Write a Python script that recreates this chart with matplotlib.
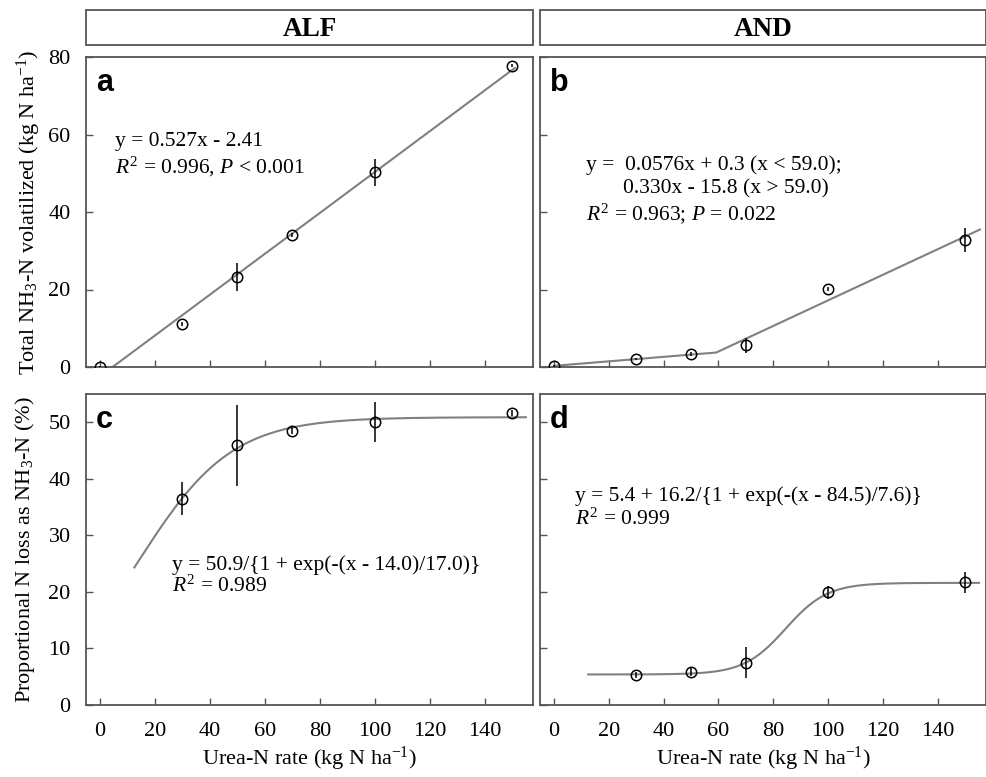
import numpy as np
import matplotlib
matplotlib.use("Agg")
import matplotlib.pyplot as plt
from matplotlib.patches import Rectangle

plt.rcParams['font.family'] = ['Liberation Serif', 'DejaVu Serif']
plt.rcParams['mathtext.fontset'] = 'custom'
plt.rcParams['mathtext.rm'] = 'Liberation Serif'
plt.rcParams['mathtext.it'] = 'Liberation Serif:italic'
plt.rcParams['mathtext.bf'] = 'Liberation Serif:bold'

# ---- data ----
rates = [0, 30, 50, 70, 100, 150]
alf_total = [0.0, 11.2, 23.2, 34.1, 50.2, 77.8]
alf_total_err = [0.3, 0.5, 3.7, 0.6, 3.5, 0.5]
and_total = [0.3, 2.0, 3.3, 5.6, 20.2, 32.8]
and_total_err = [0.3, 0.3, 0.5, 2.0, 0.5, 3.0]

rates_pct = [30, 50, 70, 100, 150]
alf_pct = [36.5, 45.9, 48.5, 50.0, 51.6]
alf_pct_err = [2.9, 7.2, 0.6, 3.5, 0.5]
and_pct = [5.3, 5.8, 7.5, 19.9, 21.7]
and_pct_err = [0.5, 0.7, 2.8, 1.1, 1.9]

# fitted model parameters (as printed on the chart)
alf_lin = (0.527, -2.41)
and_seg = (0.0576, 0.3, 0.330, -15.8, 59.0)
alf_sig = (50.9, 14.0, 17.0)
and_sig = (5.4, 16.2, 84.5, 7.6)

col_titles = ['ALF', 'AND']
xticks = [0, 20, 40, 60, 80, 100, 120, 140]

# ---- figure ----
fig = plt.figure(figsize=(9.87, 7.77), dpi=100)
W, H = 987, 777

def axpos(l, t, r, b):
    return [l / W, 1 - b / H, (r - l) / W, (b - t) / H]

ax_a = fig.add_axes(axpos(86, 57, 533, 367))
ax_b = fig.add_axes(axpos(540, 57, 986, 367))
ax_c = fig.add_axes(axpos(86, 394, 533, 705))
ax_d = fig.add_axes(axpos(540, 394, 986, 705))

spine_col = '#555555'
line_col = '#808080'

for ax in (ax_a, ax_b, ax_c, ax_d):
    ax.set_xlim(-5.1, 157.6)
    ax.set_xticks(xticks)
    for s in ax.spines.values():
        s.set_color(spine_col)
        s.set_linewidth(1.3)
    ax.tick_params(direction='in', length=5, width=1.0, color=spine_col,
                   labelsize=16)
    ax.tick_params(axis='x', pad=12)
    ax.tick_params(axis='y', pad=11)

for ax in (ax_a, ax_b):
    ax.set_ylim(0, 80)
    ax.set_yticks([0, 20, 40, 60, 80])
    ax.tick_params(labelbottom=False)
for ax in (ax_c, ax_d):
    ax.set_ylim(0, 55)
    ax.set_yticks([0, 10, 20, 30, 40, 50])
for ax in (ax_b, ax_d):
    ax.tick_params(labelleft=False)

mk = dict(fmt='o', mfc='none', mec='black', ecolor='black', ms=7.5, mew=1.1,
          elinewidth=1.1, capsize=0, zorder=5)

# panel a
xa = np.linspace(-alf_lin[1] / alf_lin[0], 151, 50)
ax_a.plot(xa, alf_lin[0] * xa + alf_lin[1], color=line_col, lw=1.5)
ax_a.errorbar(rates, alf_total, yerr=alf_total_err, **mk)

# panel b
xb = np.linspace(0, 155.4, 400)
yb = np.where(xb < and_seg[4], and_seg[0] * xb + and_seg[1], and_seg[2] * xb + and_seg[3])
ax_b.plot(xb, yb, color=line_col, lw=1.5)
ax_b.errorbar(rates, and_total, yerr=and_total_err, **mk)

# panel c
xc = np.linspace(12.5, 155, 300)
ax_c.plot(xc, alf_sig[0] / (1 + np.exp(-(xc - alf_sig[1]) / alf_sig[2])), color=line_col, lw=1.5)
ax_c.errorbar(rates_pct, alf_pct, yerr=alf_pct_err, **mk)

# panel d
xd = np.linspace(12.5, 155, 300)
ax_d.plot(xd, and_sig[0] + and_sig[1] / (1 + np.exp(-(xd - and_sig[2]) / and_sig[3])), color=line_col, lw=1.5)
ax_d.errorbar(rates_pct, and_pct, yerr=and_pct_err, **mk)

# annotations
fs = 15.5
ax_a.text(5.5, 58.1, 'y = 0.527x - 2.41', fontsize=fs, va='center')
ax_a.text(5.5, 51.7, r'$\mathit{R}^2$ = 0.996, $\mathit{P}$ < 0.001', fontsize=fs, va='center')

ax_b.text(11.7, 52.0, 'y =  0.0576x + 0.3 (x < 59.0);', fontsize=fs, va='center')
ax_b.text(25.3, 46.1, '0.330x - 15.8 (x > 59.0)', fontsize=fs, va='center')
ax_b.text(11.7, 39.7, r'$\mathit{R}^2$ = 0.963; $\mathit{P}$ = 0.022', fontsize=fs, va='center')

ax_c.text(26.3, 24.8, 'y = 50.9/{1 + exp(-(x - 14.0)/17.0)}', fontsize=fs, va='center')
ax_c.text(26.3, 21.0, r'$\mathit{R}^2$ = 0.989', fontsize=fs, va='center')

ax_d.text(7.7, 36.9, 'y = 5.4 + 16.2/{1 + exp(-(x - 84.5)/7.6)}', fontsize=fs, va='center')
ax_d.text(7.7, 32.8, r'$\mathit{R}^2$ = 0.999', fontsize=fs, va='center')

# panel letters
for ax, lab in zip((ax_a, ax_b, ax_c, ax_d), 'abcd'):
    ax.text(0.022, 0.965, lab, transform=ax.transAxes, fontsize=22, fontweight='bold',
            family=['Liberation Sans', 'DejaVu Sans'], va='top', ha='left')

# column header boxes
for (l, r), title in zip(((86, 533), (540, 986)), col_titles):
    fig.patches.append(Rectangle((l / W, 1 - 45 / H), (r - l) / W, 35 / H,
                                 transform=fig.transFigure, fill=False,
                                 edgecolor=spine_col, lw=1.3))
    fig.text((l + r) / 2 / W, 1 - 30 / H, title, ha='center', va='center',
             fontsize=19.5, fontweight='bold')

# axis labels
fig.text(29 / W, 1 - 212 / H, r'Total NH$_3$-N volatilized (kg N ha$^{-1}$)',
         rotation=90, ha='center', va='center', fontsize=16)
fig.text(25 / W, 1 - 550 / H, r'Proportional N loss as NH$_3$-N (%)',
         rotation=90, ha='center', va='center', fontsize=16)
for ax in (ax_c, ax_d):
    pos = ax.get_position()
    fig.text(pos.x0 + pos.width / 2, 1 - 759 / H, r'Urea-N rate (kg N ha$^{-1}$)',
             ha='center', va='center', fontsize=16)

fig.savefig('out.png', dpi=100)
